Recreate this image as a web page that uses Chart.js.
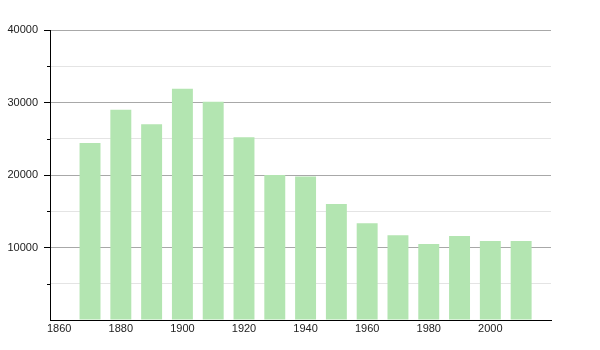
<!DOCTYPE html>
<html>
<head>
<meta charset="utf-8">
<script src="https://cdn.jsdelivr.net/npm/chart.js@4"></script>
<style>
  html, body { margin: 0; padding: 0; background: #fff; }
  #wrap { width: 600px; height: 350px; }
</style>
</head>
<body>
<div id="wrap"><canvas id="chart" width="600" height="350"></canvas></div>
<script>
const years = [1870, 1880, 1890, 1900, 1910, 1920, 1930, 1940, 1950, 1960, 1970, 1980, 1990, 2000, 2010];
const population = [24400, 29000, 27000, 31900, 30100, 25200, 20000, 19800, 16000, 13350, 11700, 10500, 11600, 10900, 10900];
const xTickLabels = [1860, 1880, 1900, 1920, 1940, 1960, 1980, 2000];
const yTickLabels = [10000, 20000, 30000, 40000];

const barColor = '#b3e5b1';

// short tick marks for the 5000 steps
const minorTicks = {
    id: 'minorTicks',
    afterDraw(chart) {
        const y = chart.scales.y;
        const c = chart.ctx;
        c.save();
        c.strokeStyle = '#000';
        c.lineWidth = 1;
        y.ticks.forEach(t => {
            if (t.value % 10000 === 0) return;
            const py = Math.round(y.getPixelForValue(t.value)) + 0.5;
            c.beginPath();
            c.moveTo(y.right - 3, py);
            c.lineTo(y.right, py);
            c.stroke();
        });
        c.restore();
    }
};

const ctx = document.getElementById('chart').getContext('2d');
new Chart(ctx, {
    type: 'bar',
    data: {
        datasets: [{
            data: years.map((yr, i) => ({ x: yr, y: population[i] })),
            backgroundColor: barColor,
            borderWidth: 0,
            categoryPercentage: 1,
            barPercentage: 0.68
        }]
    },
    options: {
        responsive: false,
        animation: false,
        layout: { padding: { left: 0, right: 49, top: 30, bottom: 0 } },
        plugins: { legend: { display: false }, tooltip: { enabled: false } },
        scales: {
            x: {
                type: 'linear',
                offset: false,
                min: 1857,
                max: 2019.7,
                afterBuildTicks: s => { s.ticks = xTickLabels.map(v => ({ value: v })); },
                afterFit: s => { s.height = 30; },
                grid: { display: true, drawOnChartArea: false, drawTicks: false },
                border: { display: true, color: '#000', width: 1 },
                ticks: {
                    padding: 2,
                    maxRotation: 0,
                    autoSkip: false,
                    color: '#222',
                    font: { family: 'Liberation Sans', size: 11 },
                    callback: v => String(v)
                }
            },
            y: {
                min: 0,
                max: 40000,
                afterFit: s => { s.width = 50; },
                ticks: {
                    stepSize: 5000,
                    padding: 6,
                    color: '#222',
                    font: { family: 'Liberation Sans', size: 11 },
                    callback: v => yTickLabels.includes(v) ? String(v) : ''
                },
                grid: {
                    tickLength: 6,
                    color: c => c.tick.value === 0 ? 'rgba(0,0,0,0)' : (c.tick.value % 10000 === 0 ? '#a8a8a8' : '#e4e4e4'),
                    tickColor: c => (c.tick.value % 10000 === 0 && c.tick.value !== 0) ? '#000' : 'rgba(0,0,0,0)'
                },
                border: { display: true, color: '#000', width: 1 }
            }
        }
    },
    plugins: [minorTicks]
});
</script>
</body>
</html>
